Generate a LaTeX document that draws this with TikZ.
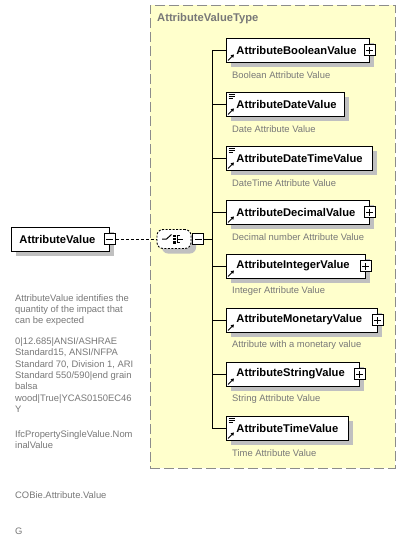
\documentclass[tikz,border=0pt]{standalone}
\usepackage{fontspec}
\setmainfont{Liberation Sans}
\usetikzlibrary{shadows,arrows.meta}
\definecolor{yel}{RGB}{255,255,204}
\definecolor{txtgray}{RGB}{120,120,120}
\definecolor{bordgray}{RGB}{140,140,140}
\definecolor{shad}{RGB}{192,192,192}
\begin{document}
\begin{tikzpicture}[x=1pt,y=-1pt,
  shd/.style={drop shadow={shadow xshift=5pt,shadow yshift=-5pt,fill=shad,opacity=1}},
  elbox/.style={draw, fill=white, line width=0.9pt, minimum height=24pt, inner xsep=10pt, inner ysep=0pt, anchor=west, align=left, font=\fontsize{11.2}{13}\selectfont\bfseries, shd},
  pbox/.style={draw, fill=white, line width=0.9pt, minimum size=11pt, inner sep=0pt,
    path picture={\draw[line width=0.9pt] ([xshift=-3.5pt]path picture bounding box.center) -- ([xshift=3.5pt]path picture bounding box.center) ([yshift=-3.5pt]path picture bounding box.center) -- ([yshift=3.5pt]path picture bounding box.center);}},
  mbox/.style={draw, fill=white, line width=0.9pt, minimum size=11pt, inner sep=0pt,
    path picture={\draw[line width=0.9pt] ([xshift=-3.5pt]path picture bounding box.center) -- ([xshift=3.5pt]path picture bounding box.center);}},
  desc/.style={anchor=west, inner sep=0pt, text=txtgray, font=\fontsize{9.4}{11.3}\selectfont},
  note/.style={anchor=north west, inner sep=0pt, text=txtgray, align=left, font=\fontsize{9.4}{11.3}\selectfont},
  conn/.style={line width=0.9pt},
  refarrow/.style={line width=0.9pt, -{Triangle[length=3pt,width=3.5pt]}},
]
\useasboundingbox (0,0) rectangle (406,560);
\fill[white] (0,0) rectangle (406,560);

% group box
\node[draw=bordgray, line width=0.9pt, dash pattern=on 10pt off 4pt, fill=yel, minimum width=245pt, minimum height=463pt, anchor=north west, inner sep=0pt] (grp) at (150,5) {};
\node[anchor=west, inner sep=0pt, text=txtgray, font=\fontsize{11.2}{13}\selectfont\bfseries] (grpt) at (157,19) {AttributeValueType};

% root element
\node[elbox, text width=82pt, inner xsep=8pt] (av) at (11,239) {AttributeValue};
\node[mbox] (avm) at (av.east) {};

% choice compositor
\node[draw, fill=white, line width=0.9pt, dash pattern=on 2pt off 1.5pt, rounded corners=6pt, minimum width=34pt, minimum height=19pt, inner sep=0pt, shd] (choice) at (174,239) {};
\node[mbox, anchor=west] (cm) at ([xshift=1pt]choice.east) {};
\draw[line width=1pt] ([shift={(-12,0)}]choice.center) -- ([shift={(-7.5,0)}]choice.center) -- ([shift={(-2.5,-4.5)}]choice.center);
\foreach \dy in {-4.5,-1.2,2.1} {\fill ([shift={(-1.2,\dy)}]choice.center) rectangle ([shift={(1.6,\dy+2.5)}]choice.center);}
\draw[line width=1pt] ([shift={(6,-3.8)}]choice.center) -- ([shift={(3.2,-3.8)}]choice.center) -- ([shift={(3.2,3.8)}]choice.center) -- ([shift={(6,3.8)}]choice.center)
  ([shift={(3.2,0)}]choice.center) -- ([shift={(8.5,0)}]choice.center);
\draw[line width=0.9pt, dash pattern=on 3pt off 2pt] (avm.east) -- (choice.west);

% child elements
\node[elbox, text width=123pt] (e1) at (226,50) {AttributeBooleanValue};
\node[elbox, text width=98pt] (e2) at (226,104) {AttributeDateValue};
\node[elbox, text width=126pt] (e3) at (226,158) {AttributeDateTimeValue};
\node[elbox, text width=123pt] (e4) at (226,212) {AttributeDecimalValue};
\node[elbox, text width=119pt] (e5) at (226,266) {AttributeIntegerValue};
\node[elbox, text width=131pt] (e6) at (226,320) {AttributeMonetaryValue};
\node[elbox, text width=113pt] (e7) at (226,374) {AttributeStringValue};
\node[elbox, text width=102pt] (e8) at (226,428) {AttributeTimeValue};

\foreach \e in {e1,e4,e5,e6,e7} {\node[pbox] (\e p) at (\e.east) {};}

% icons
\foreach \e in {e1,e2,e3,e4,e5,e6,e7,e8} {\draw[refarrow] ([shift={(2,-2)}]\e.south west) -- ([shift={(8,-8)}]\e.south west);}
\foreach \e in {e2,e3,e8} {\draw[line width=0.8pt] ([shift={(2.5,3)}]\e.north west) -- ([shift={(8.5,3)}]\e.north west)
  ([shift={(2.5,5)}]\e.north west) -- ([shift={(8.5,5)}]\e.north west)
  ([shift={(2.5,7)}]\e.north west) -- ([shift={(6.5,7)}]\e.north west);}

% connectors
\coordinate (spine) at (212,239);
\draw[conn] (cm.east) -- (spine);
\draw[conn] (spine |- e1.west) -- (spine |- e8.west);
\foreach \e in {e1,e2,e3,e4,e5,e6,e7,e8} {\draw[conn] (spine |- \e.west) -- (\e.west);}

% descriptions
\node[desc] (d1) at (232,75) {Boolean Attribute Value};
\node[desc] (d2) at (232,129) {Date Attribute Value};
\node[desc] (d3) at (232,183) {DateTime Attribute Value};
\node[desc] (d4) at (232,237) {Decimal number Attribute Value};
\node[desc] (d5) at (232,291) {Integer Attribute Value};
\node[desc] (d6) at (232,345) {Attribute with a monetary value};
\node[desc] (d7) at (232,399) {String Attribute Value};
\node[desc] (d8) at (232,453) {Time Attribute Value};

% annotations
\node[note] (n1) at (15,294) {AttributeValue identifies the\\quantity of the impact that\\can be expected};
\node[note] (n2) at (15,337.5) {0|12.685|ANSI/ASHRAE\\Standard15, ANSI/NFPA\\Standard 70, Division 1, ARI\\Standard 550/590|end grain\\balsa\\wood|True|YCAS0150EC46\\Y};
\node[note] (n3) at (15,430.5) {IfcPropertySingleValue.Nom\\inalValue};
\node[note] (n4) at (15,491.5) {COBie.Attribute.Value};
\node[note] (n5) at (15,527.5) {G};
\end{tikzpicture}
\end{document}
